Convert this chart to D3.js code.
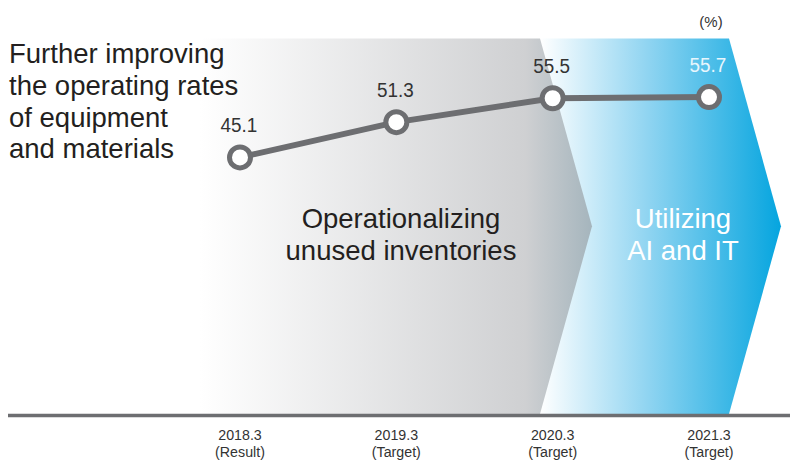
<!DOCTYPE html>
<html>
<head>
<meta charset="utf-8">
<script src="https://cdn.jsdelivr.net/npm/d3@7"></script>
<style>
  body { margin: 0; background: #fff; }
  svg { display: block; }
</style>
</head>
<body>
<script>
const w = 790;
const h = 462;

// data
const periods = ["2018.3", "2019.3", "2020.3", "2021.3"];
const periodNotes = ["(Result)", "(Target)", "(Target)", "(Target)"];
const rates = [45.1, 51.3, 55.5, 55.7];
const titleLines = ["Further improving", "the operating rates", "of equipment", "and materials"];
const grayLines = ["Operationalizing", "unused inventories"];
const blueLines = ["Utilizing", "AI and IT"];

const svg = d3.select("body").append("svg")
    .attr("width", w)
    .attr("height", h);

const xScale = d3.scalePoint()
    .domain(periods)
    .range([240, 709]);

const yScale = d3.scaleLinear()
    .domain([0, 66])
    .range([414, 38.5]);

const yTop = yScale(66), yBottom = yScale(0);
const yMid = (yTop + yBottom) / 2;

// slightly condensed look for the numbers (no narrow font installed)
const numFont = "Liberation Sans, Arial, sans-serif";

// gradients
const defs = svg.append("defs");
const gGray = defs.append("linearGradient")
    .attr("id", "gGray")
    .attr("gradientUnits", "userSpaceOnUse")
    .attr("x1", 200).attr("x2", 592).attr("y1", 0).attr("y2", 0);
gGray.append("stop").attr("offset", 0).attr("stop-color", "#ffffff");
gGray.append("stop").attr("offset", 0.83).attr("stop-color", "#cfd0d2");
gGray.append("stop").attr("offset", 1).attr("stop-color", "#a5b5bd");

const gBlue = defs.append("linearGradient")
    .attr("id", "gBlue")
    .attr("gradientUnits", "userSpaceOnUse")
    .attr("x1", 540).attr("x2", 781).attr("y1", 0).attr("y2", 0);
gBlue.append("stop").attr("offset", 0).attr("stop-color", "#ffffff");
gBlue.append("stop").attr("offset", 0.45).attr("stop-color", "#8fd4f1");
gBlue.append("stop").attr("offset", 1).attr("stop-color", "#05a5df");

// blue chevron
svg.append("path")
    .attr("d", `M540,${yTop}L729,${yTop}L781,${yMid}L729,${yBottom}L540,${yBottom}Z`)
    .attr("fill", "url(#gBlue)");

// gray chevron on top
svg.append("path")
    .attr("d", `M200,${yTop}L540,${yTop}L592,${yMid}L540,${yBottom}L200,${yBottom}Z`)
    .attr("fill", "url(#gGray)");

// baseline
svg.append("line")
    .attr("x1", 8).attr("x2", w)
    .attr("y1", yBottom + 1.5).attr("y2", yBottom + 1.5)
    .attr("stroke", "#6d6e71")
    .attr("stroke-width", 3.5);

// left title
svg.append("g").selectAll("text")
    .data(titleLines)
    .enter()
    .append("text")
    .attr("x", 9)
    .attr("y", (d, i) => 63 + i * 31.8)
    .attr("font-family", "Liberation Sans, Arial, sans-serif")
    .attr("font-size", 27.5)
    .attr("fill", "#231f20")
    .text(d => d);

// phase labels
svg.append("g").selectAll("text")
    .data(grayLines)
    .enter()
    .append("text")
    .attr("x", 401)
    .attr("y", (d, i) => 228 + i * 32)
    .attr("text-anchor", "middle")
    .attr("font-family", "Liberation Sans, Arial, sans-serif")
    .attr("font-size", 27.5)
    .attr("fill", "#231f20")
    .text(d => d);

svg.append("g").selectAll("text")
    .data(blueLines)
    .enter()
    .append("text")
    .attr("x", 683)
    .attr("y", (d, i) => 228 + i * 32)
    .attr("text-anchor", "middle")
    .attr("font-family", "Liberation Sans, Arial, sans-serif")
    .attr("font-size", 27.5)
    .attr("fill", "#ffffff")
    .text(d => d);

// line + markers
const pts = periods.map((p, i) => ({ p: p, v: rates[i] }));

svg.append("path")
    .datum(pts)
    .attr("d", d3.line().x(d => xScale(d.p)).y(d => yScale(d.v)))
    .attr("fill", "none")
    .attr("stroke", "#6d6e71")
    .attr("stroke-width", 6);

svg.append("g").selectAll("circle")
    .data(pts)
    .enter()
    .append("circle")
    .attr("cx", d => xScale(d.p))
    .attr("cy", d => yScale(d.v))
    .attr("r", 10.5)
    .attr("fill", "#fff")
    .attr("stroke", "#6d6e71")
    .attr("stroke-width", 5);

svg.append("g").selectAll("text")
    .data(pts)
    .enter()
    .append("text")
    .attr("transform", d => `translate(${xScale(d.p) - 1},${yScale(d.v) - 25.5}) scale(0.9,1)`)
    .attr("text-anchor", "middle")
    .attr("font-family", numFont)
    .attr("font-size", 21)
    .attr("fill", (d, i) => i === pts.length - 1 ? "#e8f6fd" : "#333333")
    .text(d => d.v.toFixed(1));

// unit
svg.append("text")
    .attr("x", xScale(periods[3]) + 2)
    .attr("y", 27)
    .attr("text-anchor", "middle")
    .attr("font-family", numFont)
    .attr("font-size", 15)
    .attr("fill", "#333333")
    .text("(%)");

// x labels
const xl = svg.append("g").selectAll("text")
    .data(periods)
    .enter()
    .append("text")
    .attr("transform", d => `translate(${xScale(d)},0) scale(0.95,1)`)
    .attr("text-anchor", "middle")
    .attr("font-family", numFont)
    .attr("font-size", 15)
    .attr("fill", "#333333");

xl.append("tspan")
    .attr("x", 0)
    .attr("y", 440)
    .text(d => d);

xl.append("tspan")
    .attr("x", 0)
    .attr("y", 457.5)
    .text((d, i) => periodNotes[i]);
</script>
</body>
</html>
